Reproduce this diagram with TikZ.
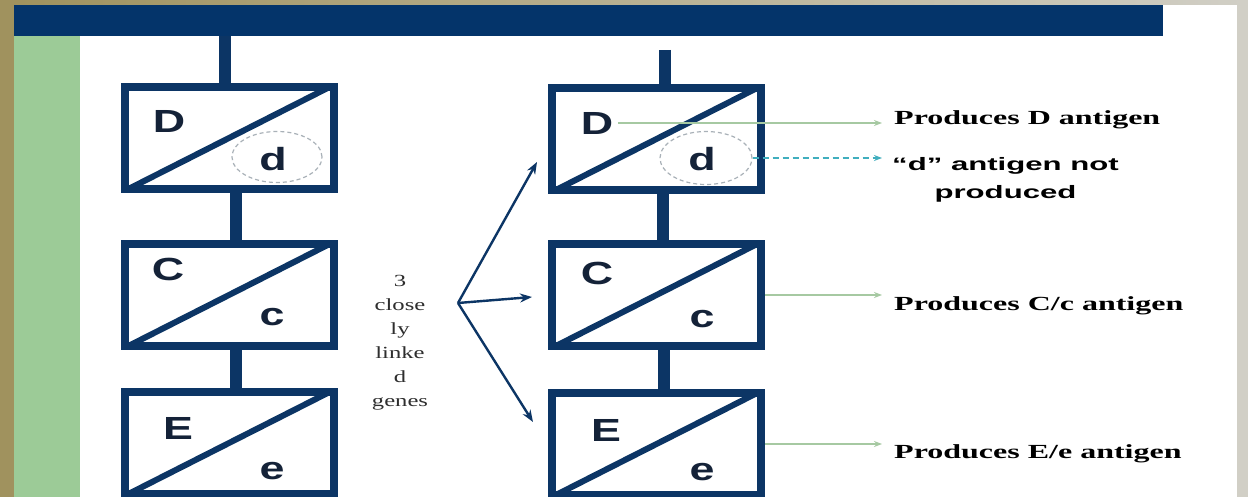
\documentclass[tikz,border=0pt]{standalone}
\usepackage{fontspec}
\usepackage{graphicx}
\setmainfont{Liberation Serif}
\setsansfont{Liberation Sans}
\usetikzlibrary{arrows.meta,calc,shapes.geometric}

\definecolor{frameolive}{HTML}{A0925E}
\definecolor{framegray}{HTML}{D1CFC6}
\definecolor{barblue}{HTML}{04346A}
\definecolor{boxblue}{HTML}{0C3565}
\definecolor{stripgreen}{HTML}{9CCB97}
\definecolor{lettercol}{HTML}{142238}
\definecolor{ringgray}{HTML}{A9B1B8}
\definecolor{leadgreen}{HTML}{A6C9A2}
\definecolor{leadteal}{HTML}{40AEBE}
\definecolor{notecol}{HTML}{2E2E2E}

% horizontally widened text
\newcommand\widen[2]{\scalebox{#1}[1]{#2}}

\tikzset{
  gene/.style={draw=boxblue, line width=8pt, fill=white,
    minimum width=209pt, minimum height=102pt, inner sep=0pt},
  link/.style={boxblue, line width=12pt},
  diag/.style={boxblue, line width=6pt, shorten <=6pt, shorten >=7pt},
  allele/.style={font=\sffamily\bfseries\fontsize{32}{32}\selectfont,
    text=lettercol, inner sep=0pt},
  ring/.style={ellipse, draw=ringgray, line width=1.2pt,
    dash pattern=on 4pt off 3pt, inner sep=0pt},
  lead/.style={leadgreen, line width=1.8pt,
    -{Stealth[length=8pt,width=6pt]}},
  leaddash/.style={leadteal, line width=1.8pt, dash pattern=on 6pt off 4pt,
    -{Stealth[length=8pt,width=6pt]}},
  fork/.style={boxblue, line width=2.4pt,
    -{Stealth[length=12pt,width=9pt]}},
  product/.style={font=\bfseries\fontsize{20}{20}\selectfont,
    text=black, inner sep=0pt, anchor=base west},
  absent/.style={font=\sffamily\bfseries\fontsize{18}{18}\selectfont,
    text=black, inner sep=0pt},
  note/.style={font=\fontsize{17}{24}\selectfont, text=notecol,
    align=center, inner sep=0pt}
}

\begin{document}
\begin{tikzpicture}[x=1pt,y=-1pt]
\useasboundingbox (0,0) rectangle (1248,497);
\clip (0,0) rectangle (1248,497);

% frame and slide background
\fill[frameolive] (0,0) rectangle (1248,497);
\shade[left color=frameolive, right color=framegray] (14,0) rectangle (1248,5);
\fill[framegray] (1237,0) rectangle (1248,497);
\fill[white] (14,5) rectangle (1237,497);
\fill[stripgreen] (14,36) rectangle (80,497);
\node[fill=barblue, minimum width=1149pt, minimum height=31pt,
  inner sep=0pt, anchor=north west] (bar) at (14,5) {};

% left chromosome
\node[gene] (DL) at (229,138) {};
\node[gene] (CL) at (229,295) {};
\node[gene] (EL) at (229,443) {};
\draw[link] ([xshift=-4pt]DL.north) -- ([xshift=-4pt]DL.north |- bar.south);
\draw[link] ([xshift=7pt]DL.south) -- ([xshift=7pt]CL.north);
\draw[link] ([xshift=7pt]CL.south) -- ([xshift=7pt]EL.north);
\foreach \g in {DL,CL,EL}
  \draw[diag] (\g.south west) -- (\g.north east);

\node[ring] (ringL) at (277,157) [minimum width=90pt, minimum height=51pt] {};
\node[allele] (aDL) at (169,121) {\widen{1.4}{D}};
\node[allele] (adL) at (273,159) {\widen{1.4}{d}};
\node[allele] (aCL) at (168,269) {\widen{1.4}{C}};
\node[allele] (acL) at (272,317) {\widen{1.4}{c}};
\node[allele] (aEL) at (178,428) {\widen{1.4}{E}};
\node[allele] (aeL) at (272,471) {\widen{1.4}{e}};

% right chromosome
\node[gene] (DR) at (656.5,139) {};
\node[gene] (CR) at (656.5,295) {};
\node[gene] (ER) at (656.5,444) {};
\coordinate (topR) at (665,50);
\draw[link] (topR) -- ([xshift=8.5pt]DR.north);
\draw[link] ([xshift=6.5pt]DR.south) -- ([xshift=6.5pt]CR.north);
\draw[link] ([xshift=7.5pt]CR.south) -- ([xshift=7.5pt]ER.north);
\foreach \g in {DR,CR,ER}
  \draw[diag] (\g.south west) -- (\g.north east);

\node[ring] (ringR) at (706,158) [minimum width=92pt, minimum height=53pt] {};
\node[allele] (aDR) at (597,123) {\widen{1.4}{D}};
\node[allele] (adR) at (702,159) {\widen{1.4}{d}};
\node[allele] (aCR) at (597,273) {\widen{1.4}{C}};
\node[allele] (acR) at (702,319) {\widen{1.4}{c}};
\node[allele] (aER) at (606,430) {\widen{1.4}{E}};
\node[allele] (aeR) at (702,472) {\widen{1.4}{e}};

% note with branching arrows
\node[note] (linked) at (400,343) {\widen{1.45}{3}\\\widen{1.45}{close}\\\widen{1.45}{ly}\\\widen{1.45}{linke}\\\widen{1.45}{d}\\\widen{1.45}{genes}};
\coordinate (split) at (458,303);
\coordinate (toD) at (537,162);
\coordinate (toC) at (532,297);
\coordinate (toE) at (533,422);
\draw[fork] (split) -- (toD);
\draw[fork] (split) -- (toC);
\draw[fork] (split) -- (toE);

% products
\node[product] (labD) at (894,125) {\widen{1.6}{Produces D antigen}};
\node[absent, anchor=base west] (labd) at (892,171) {\widen{1.73}{“d” antigen not}};
\node[absent, anchor=base] (labd2) at ($(labd.base)+(0,28)$) {\widen{1.73}{produced}};
\node[product] (labC) at (894,310) {\widen{1.6}{Produces C/c antigen}};
\node[product] (labE) at (894,458) {\widen{1.6}{Produces E/e antigen}};

\draw[lead] ([xshift=5pt]aDR.east) -- ([xshift=-12pt]aDR.east -| labD.west);
\draw[leaddash] (ringR.east) -- ([xshift=-10pt]ringR.east -| labd.west);
\draw[lead] (CR.east) -- ([xshift=-12pt]CR.east -| labC.west);
\draw[lead] (ER.east) -- ([xshift=-12pt]ER.east -| labE.west);
\end{tikzpicture}
\end{document}
